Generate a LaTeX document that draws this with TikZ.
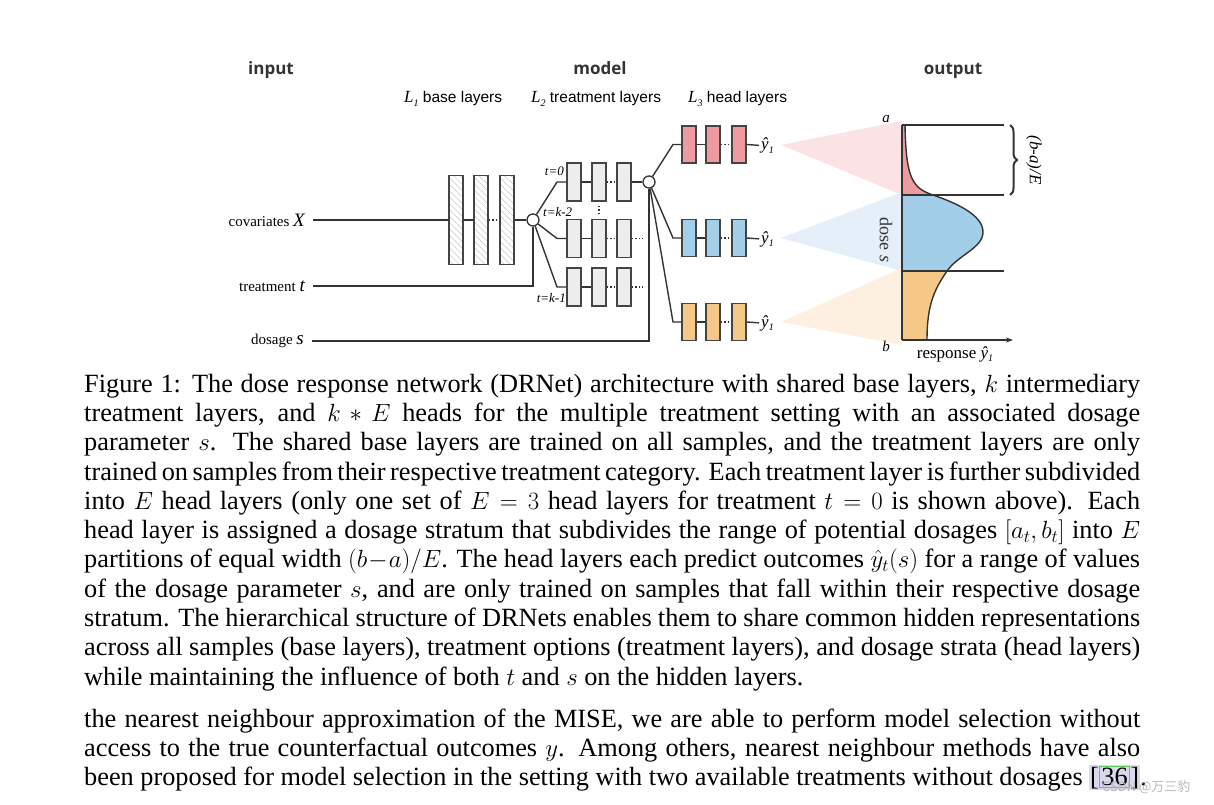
\documentclass[tikz,border=0pt]{standalone}
\usepackage{fontspec}
\setmainfont{Liberation Serif}
\newfontfamily\sansf{Liberation Sans}
\newfontfamily\headf{Open Sans}
\newfontfamily\cjkf{Noto Sans CJK SC}
\usetikzlibrary{patterns.meta,decorations.pathreplacing,arrows.meta,calc}
\definecolor{ln}{HTML}{333333}
\definecolor{bx}{HTML}{444444}
\definecolor{tg}{HTML}{EDEDED}
\definecolor{hred}{HTML}{EF9A9F}
\definecolor{hblue}{HTML}{A3CEEA}
\definecolor{horange}{HTML}{F5C888}
\definecolor{tred}{HTML}{FBE3E5}
\definecolor{tblue}{HTML}{E4EFF9}
\definecolor{torange}{HTML}{FDF0E0}
\definecolor{lav}{HTML}{D9D9EE}
\definecolor{lgreen}{HTML}{5CCB5C}
\newcommand\jl[1]{\hbox to 1056pt{#1}\par}
\newcommand\sub[1]{\raisebox{-3.5pt}{\fontsize{10}{10}\selectfont\itshape #1}}
\newcommand\bodyfont{\fontsize{26.3}{29.33}\selectfont\spaceskip=0.25em plus 0.16em minus 0.1em\relax}
\begin{document}
\begin{tikzpicture}[x=1pt,y=-1pt,
  line/.style={draw=ln, line width=1.4pt},
  dotline/.style={draw=ln, line width=1.4pt, dotted},
  hatchbox/.style={draw=bx, line width=1.8pt, minimum width=14pt, minimum height=89pt, inner sep=0pt,
     pattern={Lines[angle=-45,distance=4.5pt,line width=0.5pt]}, pattern color=gray!45},
  tbox/.style={draw=bx, line width=1.8pt, fill=tg, minimum width=14pt, minimum height=38pt, inner sep=0pt},
  hbox/.style={draw=bx, line width=1.8pt, minimum width=14pt, minimum height=37pt, inner sep=0pt},
  junc/.style={circle, draw=ln, fill=white, line width=1.3pt, minimum size=12pt, inner sep=0pt},
  head/.style={font=\headf\bfseries\fontsize{17}{20}\selectfont, text=ln, inner sep=0pt, anchor=base},
  sub/.style={font=\fontsize{16}{19}\selectfont, anchor=west, inner sep=0pt},
  inlab/.style={font=\fontsize{15}{18}\selectfont, anchor=east, inner sep=0pt},
  tlab/.style={font=\fontsize{13}{15}\selectfont\itshape, inner sep=0pt},
  ylab/.style={font=\fontsize{17}{19}\selectfont\itshape, anchor=west, inner sep=0pt},
]
\useasboundingbox (0,0) rectangle (1214,804);
\fill[white] (0,0) rectangle (1214,804);

% headers
\node[head] (hin) at (271,74) {input};
\node[head] (hmo) at (600,74) {model};
\node[head] (hout) at (953,74) {output};
\node[sub] (s1) at (404,99) {\fontsize{17}{19}\selectfont\textit{L}\sub{1}\ {\sansf\fontsize{15.5}{18}\selectfont base layers}};
\node[sub] (s2) at (531,99) {\fontsize{17}{19}\selectfont\textit{L}\sub{2}\ {\sansf\fontsize{15.5}{18}\selectfont treatment layers}};
\node[sub] (s3) at (688,99) {\fontsize{17}{19}\selectfont\textit{L}\sub{3}\ {\sansf\fontsize{15.5}{18}\selectfont head layers}};

% triangles
\fill[tred] (781,145) -- (902,121) -- (902,195) -- cycle;
\fill[tblue] (781,238) -- (902,192) -- (902,271) -- cycle;
\fill[torange] (781,322) -- (902,268) -- (902,345) -- cycle;

% inputs
\node[inlab] (cov) at (305,220) {covariates {\fontsize{19}{20}\selectfont\itshape X}};
\node[inlab] (trt) at (305,286) {treatment {\fontsize{19}{20}\selectfont\itshape t}};
\node[inlab] (dos) at (304,341) {dosage {\fontsize{19}{20}\selectfont\itshape s}};

% base layers
\node[hatchbox] (b1) at (456,220) {};
\node[hatchbox] (b2) at (481,220) {};
\node[hatchbox] (b3) at (507,220) {};
\node[junc] (c1) at (533,220) {};
\node[junc] (c2) at (649,182) {};

\draw[line, shorten <=8pt] (cov.east) -- (b1.west);
\draw[line] (b1.east) -- (b2.west);
\draw[dotline] (b2.east) -- (b3.west);
\draw[line] (b3.east) -- (c1);
\draw[line, shorten <=8pt] (trt.east) -| (c1.south);
\draw[line, shorten <=8pt] (dos.east) -| (c2.south);

% treatment layers
\foreach \r/\y in {0/182,1/238.5,2/287}{
  \node[tbox] (t\r1) at (574,\y) {};
  \node[tbox] (t\r2) at (599,\y) {};
  \node[tbox] (t\r3) at (624,\y) {};
  \coordinate (k\r) at (557,\y);
  \draw[line] (c1) -- (k\r) -- (t\r1.west);
  \draw[line] (t\r1.east) -- (t\r2.west);
  \draw[dotline] (t\r2.east) -- (t\r3.west);
}
\draw[line] (t03.east) -- (c2);
\coordinate (e1) at (643,238.5);
\coordinate (e2) at (643,287);
\draw[dotline] (t13.east) -- (e1);
\draw[dotline] (t23.east) -- (e2);
\draw[dotline] ($(t02.south)+(0,4)$) -- ($(t12.north)+(0,-3)$);
\node[tlab, anchor=east] (l0) at (564,171) {t=0};
\node[tlab, anchor=west] (l1) at (543,212) {t=k-2};
\node[tlab, anchor=east] (l2) at (566,298) {t=k-1};

% head layers
\foreach \r/\y/\c in {0/144.5/hred,1/238/hblue,2/322/horange}{
  \node[hbox, fill=\c] (h\r1) at (689,\y) {};
  \node[hbox, fill=\c] (h\r2) at (713,\y) {};
  \node[hbox, fill=\c] (h\r3) at (739,\y) {};
  \coordinate (m\r) at (673,\y);
  \node[ylab] (y\r) at (761,\y+1) {ŷ\sub{1}};
  \draw[line] (c2) -- (m\r) -- (h\r1.west);
  \draw[line] (h\r1.east) -- (h\r2.west);
  \draw[dotline] (h\r2.east) -- (h\r3.west);
  \draw[line, shorten >=2pt] (h\r3.east) -- (y\r.west);
}

% output plot
\def\curve{(905,125) .. controls (906,178) and (912,188) .. (933,195) .. controls (953,202) and (983,214) .. (983,232) .. controls (983,248) and (958,255) .. (947,271) .. controls (934,290) and (927,305) .. (927,340)}
\begin{scope}\clip (902,125) rectangle (1010,195);
\fill[hred] (902,125) -- \curve -- (902,340) -- cycle;\end{scope}
\begin{scope}\clip (902,195) rectangle (1010,271);
\fill[hblue] (902,125) -- \curve -- (902,340) -- cycle;\end{scope}
\begin{scope}\clip (902,271) rectangle (1010,340);
\fill[horange] (902,125) -- \curve -- (902,340) -- cycle;\end{scope}
\draw[line] \curve;
\coordinate (pa) at (902,125);
\coordinate (pb) at (902,340);
\coordinate (q1) at (1004,125);
\coordinate (q2) at (1004,195);
\coordinate (q3) at (1004,271);
\coordinate (p2) at (902,195);
\coordinate (p3) at (902,271);
\coordinate (px) at (1013,340);
\draw[line] (pa) -- (q1);
\draw[line] (p2) -- (q2);
\draw[line] (p3) -- (q3);
\draw[line, line width=1.8pt] (pa) -- (pb);
\draw[line, -{Stealth[length=7pt,width=5pt]}] (pb) -- (px);
\coordinate (br1) at (1010,125);
\coordinate (br2) at (1010,195);
\draw[draw=ln, line width=2pt, decorate, decoration={brace, amplitude=7pt}] (br1) -- (br2);
\node[font=\fontsize{17}{19}\selectfont\itshape, rotate=-90, inner sep=0pt] (ba) at (1034,160) {(b-a)/E};
\node[font=\fontsize{18}{20}\selectfont, rotate=-90, inner sep=0pt, text=ln] (ds) at (886,240) {dose \textit{s}};
\node[font=\fontsize{15}{17}\selectfont\itshape, inner sep=0pt] (la) at (886,119) {a};
\node[font=\fontsize{15}{17}\selectfont\itshape, inner sep=0pt] (lb) at (886,346) {b};
\node[font=\fontsize{17}{19}\selectfont, inner sep=0pt] (resp) at (955,354) {response \textit{ŷ}\sub{1}};

% caption
\node[anchor=base west, inner sep=0pt] (cap) at (84,392) {\parbox[t]{1056pt}{\bodyfont
\jl{Figure 1: The dose response network (DRNet) architecture with shared base layers, $k$ intermediary}
\jl{treatment layers, and $k * E$ heads for the multiple treatment setting with an associated dosage}
\jl{parameter $s$. The shared base layers are trained on all samples, and the treatment layers are only}
\jl{trained on samples from their respective treatment category. Each treatment layer is further subdivided}
\jl{into $E$ head layers (only one set of $E = 3$ head layers for treatment $t = 0$ is shown above). Each}
\jl{head layer is assigned a dosage stratum that subdivides the range of potential dosages $[a_t, b_t]$ into $E$}
\jl{partitions of equal width $(b\!-\!a)/E$. The head layers each predict outcomes $\hat{y}_t(s)$ for a range of values}
\jl{of the dosage parameter $s$, and are only trained on samples that fall within their respective dosage}
\jl{stratum. The hierarchical structure of DRNets enables them to share common hidden representations}
\jl{across all samples (base layers), treatment options (treatment layers), and dosage strata (head layers)}
\hbox{while maintaining the influence of both $t$ and $s$ on the hidden layers.}}};

\node[anchor=base west, inner sep=0pt] (par) at (84,727) {\parbox[t]{1056pt}{\bodyfont
\jl{the nearest neighbour approximation of the MISE, we are able to perform model selection without}
\jl{access to the true counterfactual outcomes $y$. Among others, nearest neighbour methods have also}
\hbox{been proposed for model selection in the setting with two available treatments without dosages {\setlength\fboxsep{1pt}\colorbox{lav}{[\setlength\fboxrule{1.5pt}\fcolorbox{lgreen}{lav}{36}]}}.}}};

\node[font=\cjkf\fontsize{13}{14}\selectfont, text=gray!55, anchor=west, inner sep=0pt] (wm) at (1102,787) {CSDN @万三豹};
\end{tikzpicture}
\end{document}
